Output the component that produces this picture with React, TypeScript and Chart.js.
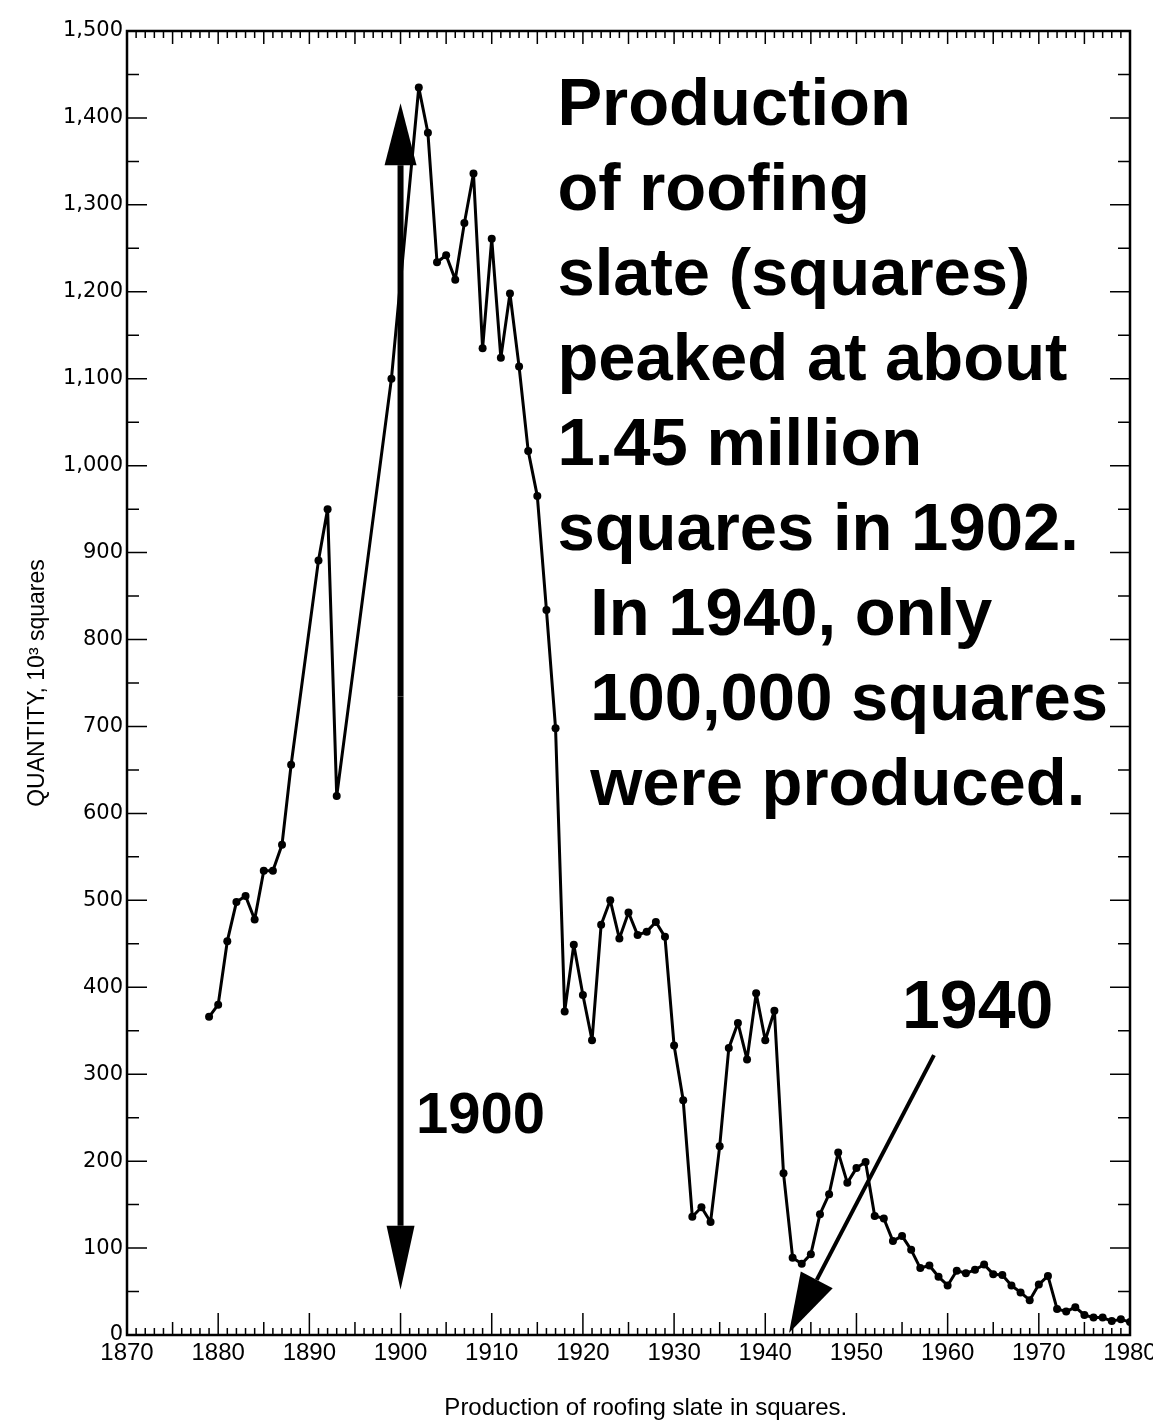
import React, { useEffect, useRef } from "react";
import { Chart, registerables } from "chart.js";

Chart.register(...registerables);

// ---- data (years with recorded production, thousands of squares) ----
const years = [
  1879, 1880, 1881, 1882, 1883, 1884, 1885, 1886, 1887, 1888,
  1891, 1892, 1893, 1899,
  1902, 1903, 1904, 1905, 1906, 1907, 1908, 1909, 1910, 1911, 1912, 1913, 1914, 1915, 1916, 1917,
  1918, 1919, 1920, 1921, 1922, 1923, 1924, 1925, 1926, 1927, 1928, 1929,
  1930, 1931, 1932, 1933, 1934, 1935, 1936, 1937, 1938, 1939,
  1940, 1941, 1942, 1943, 1944, 1945, 1946, 1947, 1948, 1949,
  1950, 1951, 1952, 1953, 1954, 1955, 1956, 1957, 1958, 1959,
  1960, 1961, 1962, 1963, 1964, 1965, 1966, 1967, 1968, 1969,
  1970, 1971, 1972, 1973, 1974, 1975, 1976, 1977, 1978, 1979, 1980,
];
const quantity = [
  366, 380, 453, 498, 505, 478, 534, 534, 564, 656,
  891, 950, 620, 1100,
  1435, 1383, 1234, 1242, 1214, 1279, 1336, 1135, 1261, 1124, 1198, 1114, 1017, 965, 834, 698,
  372, 449, 391, 339, 472, 500, 456, 486, 460, 464, 475, 458,
  333, 270, 136, 147, 130, 217, 330, 359, 317, 393,
  339, 373, 186, 89, 82, 93, 139, 162, 210, 175,
  192, 199, 137, 134, 108, 114, 98, 77, 80, 67,
  57, 74, 71, 75, 81, 70, 69, 57, 49, 40,
  58, 68, 30, 27, 32, 23, 20, 20, 16, 18, 15,
];
const xMin = 1870;
const xMax = 1980;
const xStep = 10;
const yMin = 0;
const yMax = 1500;
const yStep = 100;
const xTitle = "Production of roofing slate in squares.";

const annotationLines = [
  "Production",
  "of roofing",
  "slate (squares)",
  "peaked at about",
  "1.45 million",
  "squares in 1902.",
  "In 1940, only",
  "100,000 squares",
  "were produced.",
];

const overlayPlugin = {
  id: "overlay",
  afterDraw(chart: any) {
    const ctx = chart.ctx as CanvasRenderingContext2D;
    const { left, right, top, bottom } = chart.chartArea;
    const xs = chart.scales.x;
    const ys = chart.scales.y;
    const X = (v: number) => xs.getPixelForValue(v);
    const Y = (v: number) => ys.getPixelForValue(v);
    ctx.save();
    ctx.strokeStyle = "#000";
    ctx.fillStyle = "#000";
    // frame
    ctx.lineWidth = 2.5;
    ctx.strokeRect(left, top, right - left, bottom - top);
    // ticks on all four sides, pointing inward
    ctx.lineWidth = 1.5;
    ctx.beginPath();
    for (let yr = xMin; yr <= xMax; yr++) {
      const px = X(yr);
      const lb = yr % 10 === 0 ? 22 : yr % 5 === 0 ? 13 : 7;
      ctx.moveTo(px, bottom);
      ctx.lineTo(px, bottom - lb);
      const lt = yr % 5 === 0 ? 13 : 7;
      ctx.moveTo(px, top);
      ctx.lineTo(px, top + lt);
    }
    for (let v = yMin; v <= yMax; v += 50) {
      const py = Y(v);
      const l = v % 100 === 0 ? 20 : 12;
      ctx.moveTo(left, py);
      ctx.lineTo(left + l, py);
      ctx.moveTo(right, py);
      ctx.lineTo(right - l, py);
    }
    ctx.stroke();

    // arrows
    const arrow = (x0: number, y0: number, x1: number, y1: number, w: number, hl: number, hw: number) => {
      const ang = Math.atan2(y1 - y0, x1 - x0);
      const bx = x1 - hl * Math.cos(ang);
      const by = y1 - hl * Math.sin(ang);
      ctx.lineWidth = w;
      ctx.beginPath();
      ctx.moveTo(x0, y0);
      ctx.lineTo(bx, by);
      ctx.stroke();
      const px = -Math.sin(ang) * hw;
      const py = Math.cos(ang) * hw;
      ctx.beginPath();
      ctx.moveTo(x1, y1);
      ctx.lineTo(bx + px, by + py);
      ctx.lineTo(bx - px, by - py);
      ctx.closePath();
      ctx.fill();
    };
    const ax = X(1900);
    const midY = (Y(1417) + Y(52)) / 2;
    arrow(ax, midY, ax, Y(1417), 6, 62, 16);
    arrow(ax, midY, ax, Y(52), 6, 64, 14);
    arrow(X(1958.5), Y(322), X(1942.6), Y(2.3), 4, 60, 18);

    // text annotations
    ctx.textBaseline = "alphabetic";
    ctx.textAlign = "left";
    ctx.font = "bold 67px 'Liberation Sans', Arial, sans-serif";
    annotationLines.forEach((t, i) => {
      const x = i < 6 ? X(1917.2) : X(1920.8);
      ctx.fillText(t, x, Y(1392 - i * 97.8));
    });
    ctx.font = "bold 58px 'Liberation Sans', Arial, sans-serif";
    ctx.fillText("1900", X(1901.7), Y(232));
    ctx.font = "bold 68px 'Liberation Sans', Arial, sans-serif";
    ctx.fillText("1940", X(1955.0), Y(353));

    // x-axis caption (centred slightly right of the plot centre, as in the original)
    ctx.textAlign = "center";
    ctx.textBaseline = "middle";
    ctx.font = "24px 'Liberation Sans', Arial, sans-serif";
    ctx.fillText(xTitle, X(1926.9), chart.height - 14);
    ctx.restore();
  },
};

export default function App() {
  const ref = useRef<HTMLCanvasElement>(null);
  useEffect(() => {
    const canvas = ref.current;
    if (!canvas) return;
    const points = years.map((yr, i) => ({ x: yr, y: quantity[i] }));
    const chart = new Chart(canvas, {
      type: "line",
      data: {
        datasets: [
          {
            data: points,
            borderColor: "#000",
            backgroundColor: "#000",
            borderWidth: 3,
            borderJoinStyle: "round",
            borderCapStyle: "round",
            pointRadius: 4,
            pointBorderWidth: 0,
            pointBackgroundColor: "#000",
            tension: 0,
            fill: false,
          },
        ],
      },
      options: {
        responsive: false,
        animation: false,
        devicePixelRatio: 1,
        layout: { padding: { top: 31, right: 23, left: 0, bottom: 0 } },
        plugins: { legend: { display: false }, tooltip: { enabled: false } },
        scales: {
          x: {
            type: "linear",
            min: xMin,
            max: xMax,
            ticks: {
              stepSize: xStep,
              autoSkip: false,
              maxRotation: 0,
              padding: 4,
              color: "#000",
              font: { family: "'Liberation Sans', Arial, sans-serif", size: 24 },
              callback: (v: any) => String(v),
            },
            grid: { display: false, drawTicks: false },
            border: { display: false },
            title: { display: false },
            afterFit: (s: any) => {
              s.height = 87;
              s.paddingRight = 0;
              s.paddingLeft = 0;
            },
          },
          y: {
            type: "linear",
            min: yMin,
            max: yMax,
            ticks: {
              stepSize: yStep,
              padding: 4,
              color: "#000",
              font: { family: "'DejaVu Sans', sans-serif", size: 21 },
              callback: (v: any) => Number(v).toLocaleString("en-US"),
            },
            grid: { display: false, drawTicks: false },
            border: { display: false },
            title: {
              display: true,
              text: "QUANTITY, 10³ squares",
              color: "#000",
              font: { family: "'Liberation Sans', Arial, sans-serif", size: 23 },
              padding: { top: 24, bottom: 0 },
            },
            afterFit: (s: any) => {
              s.width = 127;
            },
          },
        },
      },
      plugins: [overlayPlugin],
    } as any);
    return () => chart.destroy();
  }, []);
  return (
    <div style={{ position: "absolute", left: 0, top: 0, width: 1153, height: 1422, background: "#fff" }}>
      <canvas ref={ref} width={1153} height={1422} style={{ display: "block" }} />
    </div>
  );
}
